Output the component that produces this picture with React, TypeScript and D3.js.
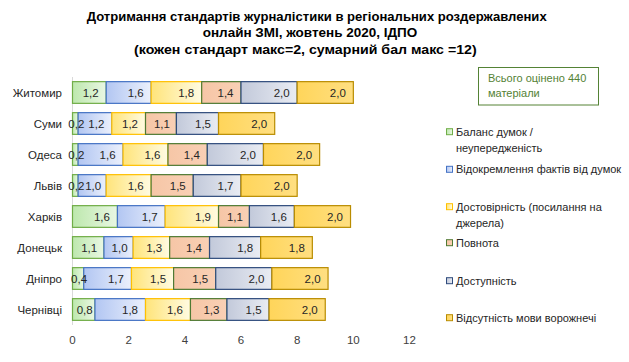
import React, { useEffect, useRef } from 'react';
import * as d3 from 'd3';

const cities = ['Житомир', 'Суми', 'Одеса', 'Львів', 'Харків', 'Донецьк', 'Дніпро', 'Чернівці'];
const balance = [1.2, 0.2, 0.2, 0.2, 1.6, 1.12, 0.4, 0.8];
const separation = [1.6, 1.2, 1.6, 1.0, 1.7, 1.04, 1.7, 1.8];
const reliability = [1.8, 1.2, 1.6, 1.6, 1.9, 1.3, 1.5, 1.6];
const completeness = [1.4, 1.1, 1.4, 1.5, 1.1, 1.42, 1.5, 1.3];
const accessibility = [2.0, 1.5, 2.0, 1.7, 1.6, 1.82, 2.0, 1.5];
const noHate = [2.0, 2.0, 2.0, 2.0, 2.0, 1.84, 2.0, 2.0];
const seriesNames = [
    'Баланс думок / неупередженість',
    'Відокремлення фактів від думок',
    'Достовірність (посилання на джерела)',
    'Повнота',
    'Доступність',
    'Відсутність мови ворожнечі',
];
const legendLines = [
    ['Баланс думок /', 'неупередженість'],
    ['Відокремлення фактів від думок'],
    ['Достовірність (посилання на', 'джерела)'],
    ['Повнота'],
    ['Доступність'],
    ['Відсутність мови ворожнечі'],
];
const xTicks = [0, 2, 4, 6, 8, 10, 12];
const titleLines = [
    'Дотримання стандартів журналістики в регіональних роздержавлених',
    'онлайн ЗМІ, жовтень 2020, ІДПО',
    '(кожен стандарт макс=2, сумарний бал макс =12)',
];
const noteLines = ['Всього оцінено 440', 'матеріали'];

// fill gradient (left, right) and border per series
const styles = [
    { c0: '#bde8ad', c1: '#e9f7e3', stroke: '#70ad47' },
    { c0: '#b2c6f2', c1: '#ebf0fc', stroke: '#4472c4' },
    { c0: '#ffe47a', c1: '#fffbe2', stroke: '#ffc000' },
    { c0: '#f6c6a6', c1: '#f9d0b5', stroke: '#4f7a33' },
    { c0: '#c2c9da', c1: '#e9ecf3', stroke: '#2f4b7c' },
    { c0: '#ffd55a', c1: '#ffdf82', stroke: '#b98c00' },
];

const FONT = '"Liberation Sans", Arial, sans-serif';

const App: React.FC = () => {
    const ref = useRef<SVGSVGElement>(null);

    useEffect(() => {
        if (!ref.current) return;
        const svg = d3.select(ref.current);
        svg.selectAll('*').remove();

        const series = [balance, separation, reliability, completeness, accessibility, noHate];

        const defs = svg.append('defs');
        styles.forEach((s, i) => {
            const g = defs.append('linearGradient').attr('id', `g${i}`)
                .attr('x1', 0).attr('x2', 1).attr('y1', 0).attr('y2', 0);
            g.append('stop').attr('offset', '0%').attr('stop-color', s.c0);
            g.append('stop').attr('offset', '100%').attr('stop-color', s.c1);
        });

        // title
        const tx = [86.7, 202.7, 134];
        const tw = [460, 214.6, 342.7];
        titleLines.forEach((t, i) => {
            svg.append('text')
                .attr('x', tx[i]).attr('y', 21 + i * 16.4)
                .attr('font-family', FONT).attr('font-weight', 'bold').attr('font-size', 12.5)
                .attr('fill', '#000')
                .attr('textLength', tw[i]).attr('lengthAdjust', 'spacingAndGlyphs')
                .text(t);
        });

        const x = d3.scaleLinear().domain([0, 12]).range([72.5, 409.5]);
        const y = d3.scaleBand().domain(cities).range([77, 325]).paddingInner(0.3).paddingOuter(0.15);

        // category axis line
        svg.append('line')
            .attr('x1', x(0)).attr('x2', x(0)).attr('y1', 77).attr('y2', 325)
            .attr('stroke', '#d9d9d9').attr('stroke-width', 1);

        const stacked = cities.map((c, ci) => {
            let acc = 0;
            return series.map((s, si) => {
                const v = s[ci];
                const seg = { city: c, si, v, x0: acc, x1: acc + v };
                acc += v;
                return seg;
            });
        });

        const rows = svg.append('g').selectAll('g').data(stacked).enter().append('g');
        rows.selectAll('rect')
            .data(d => d)
            .enter().append('rect')
            .attr('x', d => x(d.x0))
            .attr('y', d => y(d.city) || 0)
            .attr('width', d => x(d.x1) - x(d.x0))
            .attr('height', y.bandwidth())
            .attr('fill', d => `url(#g${d.si})`)
            .attr('stroke', d => styles[d.si].stroke)
            .attr('stroke-width', 1.2);

        rows.selectAll('text')
            .data(d => d)
            .enter().append('text')
            .attr('x', d => {
                const a = x(d.x0), b = x(d.x1);
                return Math.max(b - 15.5, (a + b) / 2 + 1);
            })
            .attr('y', d => (y(d.city) || 0) + y.bandwidth() / 2 + 4)
            .attr('text-anchor', 'middle')
            .attr('font-family', FONT).attr('font-size', 11.5).attr('fill', '#262626')
            .text(d => d.v.toFixed(1).replace('.', ','));

        // category labels
        svg.append('g').selectAll('text').data(cities).enter().append('text')
            .attr('x', 62)
            .attr('y', d => (y(d) || 0) + y.bandwidth() / 2 + 4)
            .attr('text-anchor', 'end')
            .attr('font-family', FONT).attr('font-size', 11.5).attr('fill', '#262626')
            .text(d => d);

        // value axis labels
        svg.append('g').selectAll('text').data(xTicks).enter().append('text')
            .attr('x', d => x(d))
            .attr('y', 343.5)
            .attr('text-anchor', 'middle')
            .attr('font-family', FONT).attr('font-size', 11.5).attr('fill', '#404040')
            .text(d => String(d));

        // note box
        svg.append('rect')
            .attr('x', 478.5).attr('y', 67.5).attr('width', 120).attr('height', 37.5)
            .attr('fill', '#fff').attr('stroke', '#548235').attr('stroke-width', 1);
        noteLines.forEach((t, i) => {
            svg.append('text')
                .attr('x', 488).attr('y', 82 + i * 15)
                .attr('font-family', FONT).attr('font-size', 11).attr('fill', '#548235')
                .text(t);
        });

        // legend
        const legendY = [131.7, 169.3, 206.7, 242.7, 280.7, 317.7];
        const lg = svg.append('g').selectAll('g').data(seriesNames).enter().append('g');
        lg.append('rect')
            .attr('x', 446.5).attr('y', (_d, i) => legendY[i] - 3)
            .attr('width', 6).attr('height', 6)
            .attr('fill', (_d, i) => `url(#g${i})`)
            .attr('stroke', (_d, i) => styles[i].stroke).attr('stroke-width', 1);
        lg.each(function (_d, i) {
            legendLines[i].forEach((line, li) => {
                d3.select(this).append('text')
                    .attr('x', 456).attr('y', legendY[i] + 4 + li * 15.8)
                    .attr('font-family', FONT).attr('font-size', 11).attr('fill', '#262626')
                    .text(line);
            });
        });
    }, []);

    return (
        <svg ref={ref} width={629} height={362}
            style={{ position: 'absolute', left: 0, top: 0, background: '#fff' }} />
    );
};

export default App;
